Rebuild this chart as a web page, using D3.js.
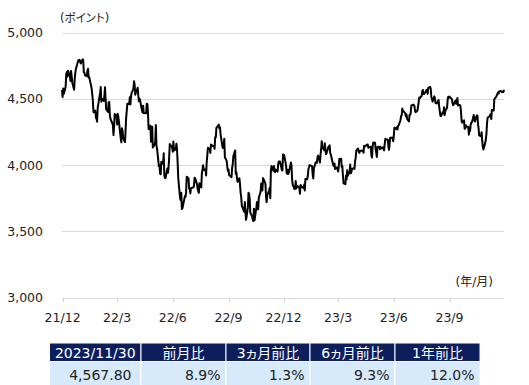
<!DOCTYPE html>
<html lang="ja">
<head>
<meta charset="utf-8">
<script src="https://cdn.jsdelivr.net/npm/d3@7"></script>
<style>
body { margin: 0; background: #fff; }
svg text { font-family: "DejaVu Sans", "Noto Sans CJK JP", sans-serif; }
.jp { font-feature-settings: "palt"; }
</style>
</head>
<body>
<svg id="chart" width="529" height="385"></svg>
<script>
// daily closes, grouped by month (trading days only)
const months = ["2021-11", "2021-12", "2022-01", "2022-02", "2022-03", "2022-04", "2022-05", "2022-06",
    "2022-07", "2022-08", "2022-09", "2022-10", "2022-11", "2022-12", "2023-01", "2023-02", "2023-03",
    "2023-04", "2023-05", "2023-06", "2023-07", "2023-08", "2023-09", "2023-10", "2023-11"];

const tradingDays = [
    [30],
    [1, 2, 3, 6, 7, 8, 9, 10, 13, 14, 15, 16, 17, 20, 21, 22, 23, 27, 28, 29, 30, 31],
    [3, 4, 5, 6, 7, 10, 11, 12, 13, 14, 18, 19, 20, 21, 24, 25, 26, 27, 28, 31],
    [1, 2, 3, 4, 7, 8, 9, 10, 11, 14, 15, 16, 17, 18, 22, 23, 24, 25, 28],
    [1, 2, 3, 4, 7, 8, 9, 10, 11, 14, 15, 16, 17, 18, 21, 22, 23, 24, 25, 28, 29, 30, 31],
    [1, 4, 5, 6, 7, 8, 11, 12, 13, 14, 18, 19, 20, 21, 22, 25, 26, 27, 28, 29],
    [2, 3, 4, 5, 6, 9, 10, 11, 12, 13, 16, 17, 18, 19, 20, 23, 24, 25, 26, 27, 31],
    [1, 2, 3, 6, 7, 8, 9, 10, 13, 14, 15, 16, 17, 21, 22, 23, 24, 27, 28, 29, 30],
    [1, 5, 6, 7, 8, 11, 12, 13, 14, 15, 18, 19, 20, 21, 22, 25, 26, 27, 28, 29],
    [1, 2, 3, 4, 5, 8, 9, 10, 11, 12, 15, 16, 17, 18, 19, 22, 23, 24, 25, 26, 29, 30, 31],
    [1, 2, 6, 7, 8, 9, 12, 13, 14, 15, 16, 19, 20, 21, 22, 23, 26, 27, 28, 29, 30],
    [3, 4, 5, 6, 7, 10, 11, 12, 13, 14, 17, 18, 19, 20, 21, 24, 25, 26, 27, 28, 31],
    [1, 2, 3, 4, 7, 8, 9, 10, 11, 14, 15, 16, 17, 18, 21, 22, 23, 25, 28, 29, 30],
    [1, 2, 5, 6, 7, 8, 9, 12, 13, 14, 15, 16, 19, 20, 21, 22, 23, 27, 28, 29, 30],
    [3, 4, 5, 6, 9, 10, 11, 12, 13, 17, 18, 19, 20, 23, 24, 25, 26, 27, 30, 31],
    [1, 2, 3, 6, 7, 8, 9, 10, 13, 14, 15, 16, 17, 21, 22, 23, 24, 27, 28],
    [1, 2, 3, 6, 7, 8, 9, 10, 13, 14, 15, 16, 17, 20, 21, 22, 23, 24, 27, 28, 29, 30, 31],
    [3, 4, 5, 6, 10, 11, 12, 13, 14, 17, 18, 19, 20, 21, 24, 25, 26, 27, 28],
    [1, 2, 3, 4, 5, 8, 9, 10, 11, 12, 15, 16, 17, 18, 19, 22, 23, 24, 25, 26, 30, 31],
    [1, 2, 5, 6, 7, 8, 9, 12, 13, 14, 15, 16, 20, 21, 22, 23, 26, 27, 28, 29, 30],
    [3, 5, 6, 7, 10, 11, 12, 13, 14, 17, 18, 19, 20, 21, 24, 25, 26, 27, 28, 31],
    [1, 2, 3, 4, 7, 8, 9, 10, 11, 14, 15, 16, 17, 18, 21, 22, 23, 24, 25, 28, 29, 30, 31],
    [1, 5, 6, 7, 8, 11, 12, 13, 14, 15, 18, 19, 20, 21, 22, 25, 26, 27, 28, 29],
    [2, 3, 4, 5, 6, 9, 10, 11, 12, 13, 16, 17, 18, 19, 20, 23, 24, 25, 26, 27, 30, 31],
    [1, 2, 3, 6, 7, 8, 9, 10, 13, 14, 15, 16, 17, 20, 21, 22, 24, 27, 28, 29, 30]
];

const closes = [
    [4567],
    [4513, 4577, 4538, 4591, 4686, 4701, 4667, 4712, 4669, 4634, 4710, 4669, 4621, 4568, 4650, 4697, 4726, 4791, 4786, 4793, 4778, 4766],
    [4797, 4794, 4701, 4696, 4677, 4670, 4713, 4726, 4659, 4663, 4577, 4533, 4483, 4398, 4410, 4357, 4350, 4327, 4432, 4516],
    [4546, 4589, 4477, 4501, 4484, 4522, 4587, 4504, 4419, 4401, 4472, 4475, 4380, 4349, 4305, 4226, 4289, 4385, 4374],
    [4306, 4387, 4364, 4329, 4201, 4171, 4278, 4260, 4204, 4173, 4262, 4358, 4412, 4463, 4461, 4512, 4457, 4520, 4543, 4576, 4632, 4602, 4530],
    [4546, 4583, 4525, 4481, 4501, 4488, 4413, 4397, 4447, 4392, 4391, 4463, 4459, 4394, 4272, 4297, 4176, 4184, 4288, 4132],
    [4155, 4175, 4301, 4147, 4123, 3991, 4001, 3935, 3930, 4024, 4008, 4088, 3923, 3901, 3901, 3974, 3941, 3979, 4058, 4158, 4132],
    [4101, 4177, 4109, 4121, 4161, 4116, 4018, 3901, 3750, 3735, 3790, 3667, 3675, 3765, 3760, 3796, 3912, 3900, 3821, 3819, 3785],
    [3825, 3831, 3845, 3903, 3899, 3855, 3819, 3802, 3790, 3863, 3831, 3937, 3960, 3999, 3962, 3967, 3921, 4024, 4072, 4130],
    [4119, 4091, 4155, 4152, 4145, 4140, 4122, 4210, 4208, 4280, 4297, 4305, 4275, 4284, 4228, 4138, 4128, 4141, 4199, 4058, 4031, 3986, 3955],
    [3967, 3924, 3908, 3980, 4006, 4067, 4110, 3932, 3946, 3901, 3873, 3900, 3856, 3790, 3758, 3693, 3655, 3647, 3720, 3640, 3586],
    [3678, 3791, 3783, 3745, 3640, 3612, 3589, 3577, 3669, 3583, 3678, 3720, 3695, 3666, 3753, 3798, 3860, 3831, 3808, 3901, 3872],
    [3856, 3760, 3720, 3771, 3807, 3828, 3749, 3957, 3993, 3957, 3992, 3959, 3947, 3965, 3950, 4004, 4027, 4026, 3964, 3958, 4080],
    [4077, 4072, 3999, 3941, 3933, 3964, 3934, 3990, 4019, 3996, 3896, 3852, 3818, 3822, 3879, 3823, 3845, 3829, 3783, 3849, 3840],
    [3825, 3853, 3808, 3895, 3893, 3919, 3970, 3983, 3999, 3991, 3929, 3899, 3973, 4020, 4017, 4016, 4060, 4071, 4018, 4077],
    [4119, 4180, 4136, 4111, 4164, 4118, 4082, 4090, 4137, 4136, 4148, 4090, 4079, 3997, 3991, 4012, 3970, 3982, 3970],
    [3951, 3981, 4046, 4048, 3986, 3992, 3918, 3862, 3855, 3920, 3892, 3960, 3917, 3951, 4003, 3937, 3948, 3971, 3977, 3971, 4028, 4051, 4109],
    [4125, 4101, 4091, 4105, 4110, 4109, 4092, 4146, 4138, 4152, 4154, 4155, 4130, 4133, 4138, 4072, 4056, 4136, 4169],
    [4168, 4120, 4091, 4061, 4136, 4138, 4119, 4138, 4131, 4124, 4136, 4110, 4159, 4198, 4192, 4193, 4146, 4115, 4151, 4205, 4206, 4180],
    [4221, 4282, 4273, 4284, 4268, 4294, 4299, 4338, 4369, 4373, 4426, 4410, 4389, 4366, 4382, 4348, 4328, 4378, 4377, 4396, 4450],
    [4456, 4447, 4412, 4399, 4410, 4440, 4472, 4510, 4505, 4522, 4555, 4566, 4535, 4536, 4554, 4567, 4566, 4538, 4582, 4589],
    [4577, 4513, 4502, 4478, 4518, 4499, 4468, 4469, 4464, 4490, 4437, 4404, 4370, 4369, 4400, 4388, 4436, 4376, 4406, 4433, 4497, 4515, 4508],
    [4516, 4497, 4465, 4451, 4457, 4487, 4462, 4467, 4505, 4450, 4453, 4444, 4402, 4330, 4320, 4337, 4274, 4275, 4300, 4288],
    [4288, 4229, 4263, 4258, 4308, 4336, 4358, 4377, 4349, 4328, 4373, 4373, 4315, 4278, 4224, 4217, 4248, 4186, 4137, 4117, 4167, 4194],
    [4237, 4318, 4358, 4366, 4378, 4383, 4347, 4415, 4411, 4496, 4503, 4509, 4514, 4547, 4538, 4556, 4559, 4550, 4555, 4551, 4568]
];

const yTicks = [3000, 3500, 4000, 4500, 5000];
const xTickLabels = ["21/12", "22/3", "22/6", "22/9", "22/12", "23/3", "23/6", "23/9"];

const tableHeaders = ["2023/11/30", "前月比", "3ヵ月前比", "6ヵ月前比", "1年前比"];
const tableValues = ["4,567.80", "8.9%", "1.3%", "9.3%", "12.0%"];

let series = [];
months.forEach(function(m, i) {
    let [yy, mm] = m.split("-").map(Number);
    tradingDays[i].forEach(function(d, j) {
        series.push({ date: new Date(yy, mm - 1, d), value: closes[i][j] });
    });
});

let svg = d3.select("#chart");
let plotLeft = 62, plotRight = 504, plotTop = 32.5, plotBottom = 297.5;

let x = d3.scaleTime()
    .domain([new Date(2021, 10, 30), new Date(2023, 10, 30)])
    .range([plotLeft, plotRight]);

let y = d3.scaleLinear()
    .domain([3000, 5000])
    .range([plotBottom, plotTop]);

// gridlines
svg.append("g")
    .selectAll("line")
    .data(yTicks)
    .enter().append("line")
    .attr("x1", plotLeft)
    .attr("x2", plotRight)
    .attr("y1", d => Math.round(y(d)) + 0.5)
    .attr("y2", d => Math.round(y(d)) + 0.5)
    .attr("stroke", "#d9d9d9")
    .attr("stroke-width", 1.2);

// y labels
svg.append("g")
    .selectAll("text")
    .data(yTicks)
    .enter().append("text")
    .attr("x", 43)
    .attr("y", d => y(d))
    .attr("dy", "0.36em")
    .attr("text-anchor", "end")
    .attr("font-size", 12.5)
    .attr("fill", "#222")
    .text(d => d3.format(",")(d));

// x axis ticks
let tickDates = xTickLabels.map(function(s) {
    let [yy, mm] = s.split("/").map(Number);
    return new Date(2000 + yy, mm - 1, 1);
});

let xAxis = svg.append("g");
xAxis.selectAll("line")
    .data(tickDates)
    .enter().append("line")
    .attr("x1", d => Math.round(x(d)) + 0.5)
    .attr("x2", d => Math.round(x(d)) + 0.5)
    .attr("y1", plotBottom)
    .attr("y2", plotBottom + 5)
    .attr("stroke", "#d9d9d9")
    .attr("stroke-width", 1.2);

xAxis.selectAll("text")
    .data(tickDates)
    .enter().append("text")
    .attr("x", d => x(d))
    .attr("y", 317.5)
    .attr("dy", "0.36em")
    .attr("text-anchor", "middle")
    .attr("font-size", 12.5)
    .attr("fill", "#222")
    .text((d, i) => xTickLabels[i]);

// unit labels
svg.append("text")
    .attr("class", "jp")
    .attr("x", 60)
    .attr("y", 18)
    .attr("dy", "0.36em")
    .attr("font-size", 11.5)
    .attr("fill", "#222")
    .text("(ポイント)");

svg.append("text")
    .attr("x", 493)
    .attr("y", 282)
    .attr("dy", "0.36em")
    .attr("text-anchor", "end")
    .attr("font-size", 12)
    .attr("fill", "#222")
    .text("(年/月)");

// price line
let line = d3.line()
    .x(d => x(d.date))
    .y(d => y(d.value));

svg.append("path")
    .datum(series)
    .attr("fill", "none")
    .attr("stroke", "#000")
    .attr("stroke-width", 2)
    .attr("stroke-linejoin", "round")
    .attr("d", line);

// summary table
let colEdges = [49.5, 141, 226, 310, 395, 480];
let headTop = 343, headBottom = 361.5, rowBottom = 388;

let table = svg.append("g");
tableHeaders.forEach(function(h, i) {
    let x0 = colEdges[i], x1 = colEdges[i + 1];
    table.append("rect")
        .attr("x", x0).attr("y", headTop)
        .attr("width", x1 - x0).attr("height", headBottom - headTop)
        .attr("fill", "#0c1f5c")
        .attr("stroke", "#fff").attr("stroke-width", 1);
    table.append("rect")
        .attr("x", x0).attr("y", headBottom)
        .attr("width", x1 - x0).attr("height", rowBottom - headBottom)
        .attr("fill", "#d7eafc")
        .attr("stroke", "#fff").attr("stroke-width", 1);
    table.append("text")
        .attr("class", "jp")
        .attr("x", (x0 + x1) / 2)
        .attr("y", (headTop + headBottom) / 2 + 0.5)
        .attr("dy", "0.36em")
        .attr("text-anchor", "middle")
        .attr("font-size", 14)
        .attr("fill", "#fff")
        .text(h);
    table.append("text")
        .attr("x", x1 - (i === 0 ? 9.5 : 5.5))
        .attr("y", 374.5)
        .attr("dy", "0.36em")
        .attr("text-anchor", "end")
        .attr("font-size", 14)
        .attr("fill", "#222")
        .text(tableValues[i]);
});
</script>
</body>
</html>
